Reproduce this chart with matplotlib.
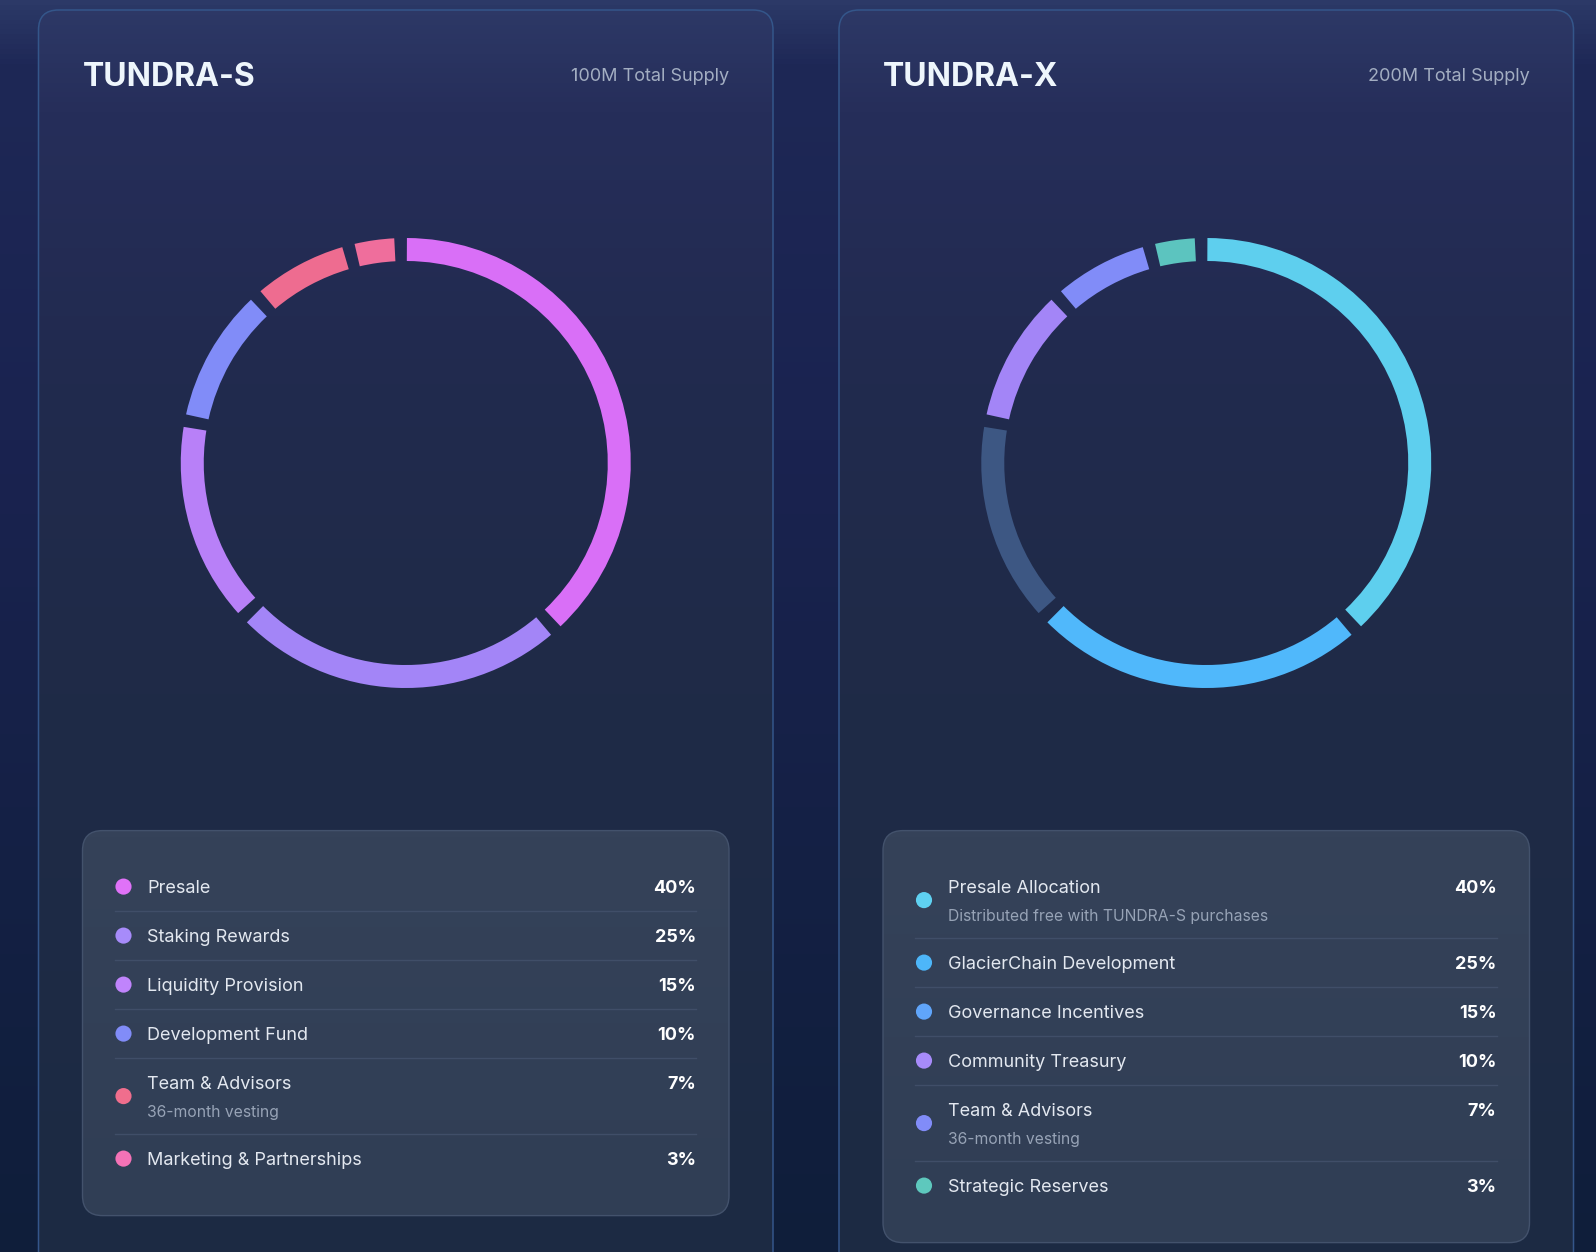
import numpy as np
import matplotlib
matplotlib.use("Agg")
import matplotlib.pyplot as plt
from matplotlib.patches import FancyBboxPatch
from matplotlib.colors import LinearSegmentedColormap

plt.rcParams['font.family'] = ['Inter', 'DejaVu Sans']

# --- data ---
tokens = ["TUNDRA-S", "TUNDRA-X"]
supplies = ["100M Total Supply", "200M Total Supply"]

s_labels = ["Presale", "Staking Rewards", "Liquidity Provision",
            "Development Fund", "Team & Advisors", "Marketing & Partnerships"]
s_notes = ["", "", "", "", "36-month vesting", ""]
s_values = [40, 25, 15, 10, 7, 3]

x_labels = ["Presale Allocation", "GlacierChain Development", "Governance Incentives",
            "Community Treasury", "Team & Advisors", "Strategic Reserves"]
x_notes = ["Distributed free with TUNDRA-S purchases", "", "", "", "36-month vesting", ""]
x_values = [40, 25, 15, 10, 7, 3]

# styles
s_ring = ["#d96ff7", "#a385f7", "#b880f8", "#818cf8", "#ee6c90", "#ef6e9c"]
s_dots = ["#e072f8", "#a78bfa", "#c084fc", "#818cf8", "#f06e8d", "#f472b6"]
x_ring = ["#5ecfee", "#50b8fb", "#3d5783", "#a385f7", "#818cf8", "#5cc4bf"]
x_dots = ["#5fd1f1", "#4db6f9", "#60a5fa", "#a78bfa", "#818cf8", "#5ec8bd"]

W, H = 1596, 1252
fig = plt.figure(figsize=(W / 100, H / 100), dpi=100)
ax = fig.add_axes([0, 0, 1, 1])
ax.set_xlim(0, W)
ax.set_ylim(H, 0)
ax.axis('off')

# page background
bg = LinearSegmentedColormap.from_list("bg", [(0, "#2c3967"), (0.05, "#1e2856"),
                                              (0.35, "#1a2350"), (1, "#0f1e3a")])
ax.imshow(np.linspace(0, 1, 256).reshape(-1, 1), cmap=bg, aspect='auto',
          extent=[0, W, H, 0], zorder=0)

card_cm = LinearSegmentedColormap.from_list("card", [(0, "#2d3866"), (0.08, "#262e5a"),
                                                     (0.3, "#212a4e"), (0.55, "#1f2b47"),
                                                     (1, "#1c2a43")])
box_cm = LinearSegmentedColormap.from_list("box", [(0, "#354259"), (1, "#303e55")])

card_x = [38.5, 839]
card_w = 734.5
pad = 44


def draw_panel(cx, title, supply, labels, notes, values, ring, dots):
    # card
    card = FancyBboxPatch((cx, 10), card_w, H + 40, boxstyle="round,pad=0,rounding_size=20",
                          facecolor="none", edgecolor="#34568a", lw=1.1, zorder=3)
    ax.add_patch(card)
    im = ax.imshow(np.linspace(0, 1, 256).reshape(-1, 1), cmap=card_cm, aspect='auto',
                   extent=[cx, cx + card_w, H, 10], zorder=1)
    im.set_clip_path(card)

    left = cx + pad
    right = cx + card_w - pad
    ax.text(left, 75 + 11, title, fontsize=23, fontweight='bold', color="#eef6fc",
            ha='left', va='baseline', zorder=5)
    ax.text(right, 75 + 6, supply, fontsize=13, color="#a3aec2",
            ha='right', va='baseline', zorder=5)

    # donut
    ccx, ccy, r = cx + card_w / 2, 463, 225
    pax = fig.add_axes([(ccx - r) / W, 1 - (ccy + r) / H, 2 * r / W, 2 * r / H])
    gap = 0.95
    vals, cols = [], []
    for v, c in zip(values, ring):
        vals += [v, gap]
        cols += [c, (0, 0, 0, 0)]
    pax.pie(vals, colors=cols, startangle=89.7, counterclock=False, radius=1,
            wedgeprops=dict(width=23 / 225, linewidth=0))
    pax.set_xlim(-1, 1)
    pax.set_ylim(-1, 1)
    pax.set_aspect('equal')
    pax.axis('off')

    # legend rows
    row_h, sub_h = 49, 27
    y = 886.6
    ys = []
    for n in notes:
        ys.append(y)
        y += row_h + (sub_h if n else 0)
    box_top = ys[0] - 56
    box_bot = ys[-1] + 57
    box = FancyBboxPatch((left, box_top), right - left, box_bot - box_top,
                         boxstyle="round,pad=0,rounding_size=20",
                         facecolor="none", edgecolor="#43526c", lw=1, zorder=4)
    ax.add_patch(box)
    bim = ax.imshow(np.linspace(0, 1, 64).reshape(-1, 1), cmap=box_cm, aspect='auto',
                    extent=[left, right, box_bot, box_top], zorder=2)
    bim.set_clip_path(box)

    dot_x = left + 41
    lab_x = left + 64.6
    pct_x = right - 33
    for i, (lab, note, v) in enumerate(zip(labels, notes, values)):
        ly = ys[i]
        dy = ly + (13.5 if note else 0)
        ax.scatter([dot_x], [dy], s=135, color=dots[i], edgecolors='none', zorder=6)
        ax.text(lab_x, ly + 6.5, lab, fontsize=13, color="#e3e8f0",
                ha='left', va='baseline', zorder=6)
        ax.text(pct_x, ly + 6.5, f"{v}%", fontsize=13, fontweight='bold', color="#ffffff",
                ha='right', va='baseline', zorder=6)
        if note:
            ax.text(lab_x, ly + 29 + 5.5, note, fontsize=11.3, color="#97a3b6",
                    ha='left', va='baseline', zorder=6)
        if i < len(labels) - 1:
            sy = ly + 24.5 + (sub_h if note else 0)
            ax.plot([dot_x - 9, pct_x], [sy, sy], color="#404e68", lw=1, zorder=5)


draw_panel(card_x[0], tokens[0], supplies[0], s_labels, s_notes, s_values, s_ring, s_dots)
draw_panel(card_x[1], tokens[1], supplies[1], x_labels, x_notes, x_values, x_ring, x_dots)

fig.savefig("out.png", dpi=100)
